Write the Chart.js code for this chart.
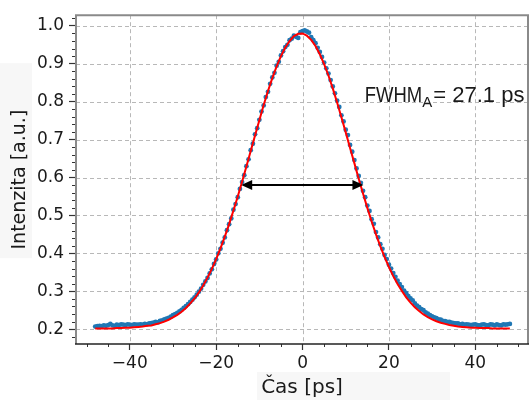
<!DOCTYPE html>
<html><head><meta charset="utf-8">
<script src="https://cdn.jsdelivr.net/npm/chart.js@4.4.0/dist/chart.umd.min.js"></script>
<style>html,body{margin:0;padding:0;background:#fff;}#wrap{width:532px;height:400px;}</style>
</head><body><div id="wrap"><canvas id="c" width="532" height="400"></canvas></div>
<script>
// Measured data: time [ps]
const timeData = [
-48,-47.5,-47,-46.5,-46,-45.5,-45,-44.5,-44,-43.5,
-43,-42.5,-42,-41.5,-41,-40.5,-40,-39.5,-39,-38.5,
-38,-37.5,-37,-36.5,-36,-35.5,-35,-34.5,-34,-33.5,
-33,-32.5,-32,-31.5,-31,-30.5,-30,-29.5,-29,-28.5,
-28,-27.5,-27,-26.5,-26,-25.5,-25,-24.5,-24,-23.5,
-23,-22.5,-22,-21.5,-21,-20.5,-20,-19.5,-19,-18.5,
-18,-17.5,-17,-16.5,-16,-15.5,-15,-14.5,-14,-13.5,
-13,-12.5,-12,-11.5,-11,-10.5,-10,-9.5,-9,-8.5,
-8,-7.5,-7,-6.5,-6,-5.5,-5,-4.5,-4,-3.5,
-3,-2.5,-2,-1.5,-1,-0.5,0,0.5,1,1.5,
2,2.5,3,3.5,4,4.5,5,5.5,6,6.5,
7,7.5,8,8.5,9,9.5,10,10.5,11,11.5,
12,12.5,13,13.5,14,14.5,15,15.5,16,16.5,
17,17.5,18,18.5,19,19.5,20,20.5,21,21.5,
22,22.5,23,23.5,24,24.5,25,25.5,26,26.5,
27,27.5,28,28.5,29,29.5,30,30.5,31,31.5,
32,32.5,33,33.5,34,34.5,35,35.5,36,36.5,
37,37.5,38,38.5,39,39.5,40,40.5,41,41.5,
42,42.5,43,43.5,44,44.5,45,45.5,46,46.5,
47,47.5,48];
// Measured intensity [a.u.]
const intensityData = [
0.207,0.208,0.209,0.208,0.210,0.209,0.211,0.214,0.210,0.209,
0.212,0.211,0.213,0.212,0.211,0.213,0.212,0.211,0.213,0.212,
0.212,0.213,0.212,0.214,0.213,0.215,0.216,0.217,0.219,0.218,
0.222,0.223,0.226,0.228,0.230,0.233,0.237,0.240,0.243,0.247,
0.251,0.256,0.261,0.266,0.272,0.278,0.284,0.291,0.299,0.307,
0.317,0.326,0.335,0.347,0.358,0.372,0.384,0.400,0.412,0.428,
0.442,0.461,0.477,0.492,0.515,0.530,0.548,0.570,0.588,0.606,
0.630,0.648,0.672,0.689,0.714,0.730,0.752,0.774,0.790,0.812,
0.826,0.847,0.864,0.876,0.895,0.905,0.922,0.933,0.944,0.950,
0.962,0.966,0.974,0.971,0.968,0.983,0.986,0.988,0.985,0.982,
0.970,0.962,0.954,0.942,0.931,0.918,0.903,0.888,0.874,0.857,
0.840,0.822,0.803,0.786,0.764,0.748,0.726,0.712,0.686,0.668,
0.646,0.624,0.604,0.586,0.565,0.548,0.526,0.512,0.490,0.478,
0.456,0.442,0.424,0.412,0.396,0.385,0.370,0.360,0.348,0.338,
0.328,0.319,0.311,0.302,0.295,0.287,0.281,0.276,0.268,0.262,
0.258,0.253,0.250,0.244,0.241,0.237,0.234,0.231,0.229,0.226,
0.225,0.222,0.221,0.219,0.219,0.217,0.216,0.215,0.215,0.213,
0.214,0.212,0.213,0.212,0.211,0.212,0.213,0.211,0.210,0.212,
0.213,0.211,0.210,0.213,0.212,0.210,0.213,0.211,0.210,0.213,
0.212,0.213,0.214];
// Gaussian fit curve
const fitTime = [
-48,-47,-46,-45,-44,-43,-42,-41,-40,-39,
-38,-37,-36,-35,-34,-33,-32,-31,-30,-29,
-28,-27,-26,-25,-24,-23,-22,-21,-20,-19,
-18,-17,-16,-15,-14,-13,-12,-11,-10,-9,
-8,-7,-6,-5,-4,-3,-2,-1,0,1,
2,3,4,5,6,7,8,9,10,11,
12,13,14,15,16,17,18,19,20,21,
22,23,24,25,26,27,28,29,30,31,
32,33,34,35,36,37,38,39,40,41,
42,43,44,45,46,47,48];
const fitValues = [
0.202,0.202,0.202,0.202,0.202,0.203,0.203,0.204,0.204,0.205,
0.206,0.207,0.209,0.210,0.213,0.216,0.220,0.225,0.231,0.238,
0.246,0.256,0.268,0.281,0.297,0.315,0.336,0.359,0.385,0.413,
0.444,0.477,0.513,0.550,0.589,0.629,0.670,0.711,0.751,0.791,
0.828,0.862,0.893,0.920,0.943,0.960,0.973,0.979,0.980,0.974,
0.963,0.947,0.925,0.899,0.869,0.835,0.798,0.759,0.719,0.678,
0.638,0.597,0.558,0.520,0.484,0.450,0.419,0.390,0.364,0.340,
0.319,0.301,0.284,0.270,0.258,0.248,0.239,0.232,0.226,0.221,
0.217,0.214,0.211,0.209,0.207,0.206,0.205,0.204,0.204,0.203,
0.203,0.203,0.202,0.202,0.202,0.202,0.202];
const xTicks = [-40, -20, 0, 20, 40];
const yTicks = [0.2, 0.3, 0.4, 0.5, 0.6, 0.7, 0.8, 0.9, 1.0];
const xRange = [-52.45, 52.2];
const yRange = [0.161, 1.028];
const arrowY = 0.58;
const arrowX = [-14.2, 14.1];
const fwhmLabel = {main: 'FWHM', sub: 'A', rest: '= 27.1 ps', x: 14.41, y: 0.798};
const xTitle = 'Čas [ps]';
const yTitle = 'Intenzita [a.u.]';

const dataPts = timeData.map((t, i) => ({x: t, y: intensityData[i]}));
const fitPts = fitTime.map((t, i) => ({x: t, y: fitValues[i]}));

const TICKFONT = {family: 'DejaVu Sans', size: 17};
const minus = v => (v < 0 ? '\u2212' + Math.abs(v) : String(v));

const decor = {
  id: 'decor',
  beforeDraw(chart) {
    const ctx = chart.ctx, a = chart.chartArea;
    ctx.save();
    ctx.fillStyle = '#f7f7f7';
    ctx.fillRect(0, a.top + 48, 32, 195);
    ctx.fillRect(257, 372, 193, 28);
    ctx.restore();
  },
  beforeDatasetsDraw(chart) {
    const ctx = chart.ctx, a = chart.chartArea;
    const xs = chart.scales.x, ys = chart.scales.y;
    ctx.save();
    ctx.strokeStyle = '#b8b8b8';
    ctx.lineWidth = 1;
    ctx.setLineDash([4, 3]);
    xTicks.forEach(v => {
      const p = Math.round(xs.getPixelForValue(v)) + 0.5;
      ctx.beginPath(); ctx.moveTo(p, a.top); ctx.lineTo(p, a.bottom); ctx.stroke();
    });
    yTicks.forEach(v => {
      const p = Math.round(ys.getPixelForValue(v)) + 0.5;
      ctx.beginPath(); ctx.moveTo(a.left, p); ctx.lineTo(a.right, p); ctx.stroke();
    });
    ctx.restore();
  },
  afterDraw(chart) {
    const ctx = chart.ctx, a = chart.chartArea;
    const xs = chart.scales.x, ys = chart.scales.y;
    ctx.save();
    // minor ticks
    ctx.strokeStyle = '#333';
    ctx.lineWidth = 1;
    for (let v = -50; v <= 50; v += 5) {
      if (v % 20 === 0) continue;
      const p = Math.round(xs.getPixelForValue(v)) + 0.5;
      ctx.beginPath(); ctx.moveTo(p, a.bottom); ctx.lineTo(p, a.bottom + 3); ctx.stroke();
    }
    for (let k = 9; k <= 51; k++) {
      const v = k * 0.02;
      if (k % 5 === 0 || v < yRange[0] || v > yRange[1]) continue;
      const p = Math.round(ys.getPixelForValue(v)) + 0.5;
      ctx.beginPath(); ctx.moveTo(a.left, p); ctx.lineTo(a.left - 4, p); ctx.stroke();
    }
    // frame
    ctx.lineWidth = 2;
    ctx.strokeStyle = '#8a8a8a';
    ctx.beginPath(); ctx.moveTo(a.left, a.bottom); ctx.lineTo(a.left, a.top); ctx.lineTo(a.right, a.top); ctx.lineTo(a.right, a.bottom); ctx.stroke();
    ctx.lineWidth = 1.6;
    ctx.strokeStyle = '#222';
    ctx.beginPath(); ctx.moveTo(a.left - 1, a.bottom); ctx.lineTo(a.right + 1, a.bottom); ctx.stroke();
    // arrow
    const y = ys.getPixelForValue(arrowY);
    const x1 = xs.getPixelForValue(arrowX[0]), x2 = xs.getPixelForValue(arrowX[1]);
    const hl = 11, hw = 5;
    ctx.strokeStyle = '#000'; ctx.fillStyle = '#000'; ctx.lineWidth = 2;
    ctx.beginPath(); ctx.moveTo(x1 + hl - 1, y); ctx.lineTo(x2 - hl + 1, y); ctx.stroke();
    ctx.beginPath(); ctx.moveTo(x1, y); ctx.lineTo(x1 + hl, y - hw); ctx.lineTo(x1 + hl, y + hw); ctx.closePath(); ctx.fill();
    ctx.beginPath(); ctx.moveTo(x2, y); ctx.lineTo(x2 - hl, y - hw); ctx.lineTo(x2 - hl, y + hw); ctx.closePath(); ctx.fill();
    // FWHM label
    let tx = xs.getPixelForValue(fwhmLabel.x);
    const ty = ys.getPixelForValue(fwhmLabel.y);
    ctx.fillStyle = '#1a1a1a';
    ctx.textBaseline = 'alphabetic';
    ctx.textAlign = 'left';
    ctx.font = '22px "Liberation Sans"';
    const squeeze = 0.84;
    ctx.save();
    ctx.translate(tx, ty);
    ctx.scale(squeeze, 1);
    ctx.fillText(fwhmLabel.main, 0, 0);
    ctx.restore();
    tx += ctx.measureText(fwhmLabel.main).width * squeeze;
    ctx.font = '15px "Liberation Sans"';
    ctx.fillText(fwhmLabel.sub, tx, ty + 5);
    tx += ctx.measureText(fwhmLabel.sub).width + 1;
    ctx.font = '22px "Liberation Sans"';
    ctx.fillText(fwhmLabel.rest, tx, ty);
    ctx.restore();
  }
};

new Chart(document.getElementById('c'), {
  type: 'scatter',
  data: {
    datasets: [
      {label: 'fit', type: 'line', data: fitPts, borderColor: '#ff0000', borderWidth: 2,
       pointRadius: 0, fill: false, tension: 0, order: 0},
      {label: 'data', data: dataPts, backgroundColor: '#1f77b4', borderWidth: 0,
       pointRadius: 2.4, order: 1}
    ]
  },
  options: {
    responsive: false, animation: false, devicePixelRatio: 1,
    layout: {padding: {top: 12, right: 2, left: 0, bottom: 0}},
    plugins: {legend: {display: false}, tooltip: {enabled: false}},
    scales: {
      x: {
        type: 'linear', position: 'bottom', min: xRange[0], max: xRange[1],
        afterBuildTicks: s => { s.ticks = xTicks.map(v => ({value: v})); },
        afterFit: s => { s.height = 56; },
        ticks: {font: TICKFONT, color: '#1a1a1a', padding: 3, callback: minus, maxRotation: 0, autoSkip: false},
        grid: {drawOnChartArea: false, drawTicks: true, tickLength: 6, tickColor: '#333', tickWidth: 1.2},
        border: {display: false},
        title: {display: true, text: xTitle, font: {family: 'DejaVu Sans', size: 20}, color: '#1a1a1a', padding: {top: 0, bottom: 0}}
      },
      y: {
        type: 'linear', min: yRange[0], max: yRange[1],
        afterBuildTicks: s => { s.ticks = yTicks.map(v => ({value: v})); },
        afterFit: s => { s.width = 76; },
        ticks: {font: TICKFONT, color: '#1a1a1a', padding: 5, callback: v => v.toFixed(1), autoSkip: false},
        grid: {drawOnChartArea: false, drawTicks: true, tickLength: 7, tickColor: '#333', tickWidth: 1.2},
        border: {display: false},
        title: {display: true, text: yTitle, font: {family: 'DejaVu Sans', size: 19}, color: '#1a1a1a', padding: {top: 9, bottom: 0}}
      }
    }
  },
  plugins: [decor]
});
</script></body></html>
